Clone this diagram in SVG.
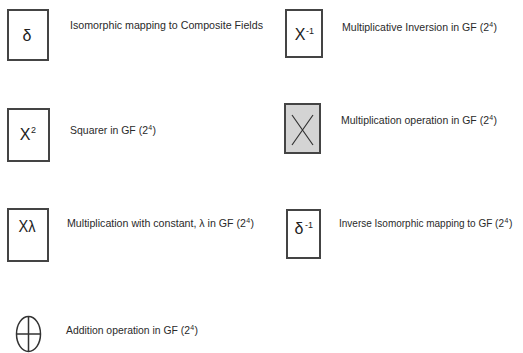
<svg xmlns="http://www.w3.org/2000/svg" width="523" height="353" viewBox="0 0 523 353">
<style>
.box{fill:#fff;stroke:#444;stroke-width:2}
.sym{font-family:"Liberation Sans",Arial,sans-serif;font-size:16px;fill:#222;text-anchor:middle}
.sup{font-family:"Liberation Sans",Arial,sans-serif;font-size:9px;fill:#222}
.lbl{font-family:"Liberation Sans",Arial,sans-serif;font-size:10.5px;fill:#2a2a2a}
.lsup{font-family:"Liberation Sans",Arial,sans-serif;font-size:7px;fill:#2a2a2a}
</style>
<rect width="523" height="353" fill="#fff"/>
<g id="n-delta">
<rect class="box" x="8" y="10" width="40" height="50"/>
<text class="sym" x="27" y="41">δ</text>
<text class="lbl" x="70" y="29" font-size="10.6" textLength="193" lengthAdjust="spacingAndGlyphs">Isomorphic mapping to Composite Fields</text>
</g>
<g id="n-inv">
<rect class="box" x="286" y="10" width="36" height="47"/>
<text class="sym" x="300" y="40">X</text>
<text class="sup" x="306" y="34">-1</text>
<text class="lbl" x="342" y="31" font-size="10.5" textLength="147" lengthAdjust="spacingAndGlyphs">Multiplicative Inversion in GF (2</text>
<text class="lsup" x="489.3" y="27">4</text>
<text class="lbl" x="493.6" y="31">)</text>
</g>
<g id="n-sq">
<rect class="box" x="8" y="109" width="41" height="52"/>
<text class="sym" x="25" y="140" font-size="17">X</text>
<text class="sup" x="31" y="133">2</text>
<text class="lbl" x="70" y="134" font-size="10.4" textLength="78" lengthAdjust="spacingAndGlyphs">Squarer in GF (2</text>
<text class="lsup" x="148.3" y="130">4</text>
<text class="lbl" x="152.6" y="134">)</text>
</g>
<g id="n-mul">
<rect x="285" y="104" width="35" height="49" fill="#d4d4d4" stroke="#444" stroke-width="2"/>
<path d="M292 115 L313 145 M313 115 L292 145" stroke="#333" stroke-width="1.2" fill="none"/>
<text class="lbl" x="341" y="124" font-size="10.4" textLength="148" lengthAdjust="spacingAndGlyphs">Multiplication operation in GF (2</text>
<text class="lsup" x="489.3" y="120">4</text>
<text class="lbl" x="493.6" y="124">)</text>
</g>
<g id="n-const">
<rect class="box" x="8" y="209" width="40" height="52"/>
<text class="sym" x="27" y="232" font-size="14" textLength="17" lengthAdjust="spacingAndGlyphs">Xλ</text>
<text class="lbl" x="67" y="227" font-size="10.5" textLength="179" lengthAdjust="spacingAndGlyphs">Multiplication with constant, λ in GF (2</text>
<text class="lsup" x="246.3" y="223">4</text>
<text class="lbl" x="250.6" y="227">)</text>
</g>
<g id="n-invdelta">
<rect class="box" x="287" y="210" width="33" height="48"/>
<text class="sym" x="299" y="234">δ</text>
<text class="sup" x="305" y="228">-1</text>
<text class="lbl" x="339" y="227" font-size="9.6" textLength="165" lengthAdjust="spacingAndGlyphs">Inverse Isomorphic mapping to GF (2</text>
<text class="lsup" x="504.6" y="223">4</text>
<text class="lbl" x="508.9" y="227">)</text>
</g>
<g id="n-add">
<ellipse cx="28.5" cy="334" rx="12" ry="17.5" fill="none" stroke="#333" stroke-width="1.5"/>
<path d="M28.5 316.5 V351.5 M16.5 334 H40.5" stroke="#333" stroke-width="1.5" fill="none"/>
<text class="lbl" x="66" y="334" font-size="10.3" textLength="124" lengthAdjust="spacingAndGlyphs">Addition operation in GF (2</text>
<text class="lsup" x="190.3" y="330">4</text>
<text class="lbl" x="194.6" y="334">)</text>
</g>
<g id="connectors"/>
</svg>
